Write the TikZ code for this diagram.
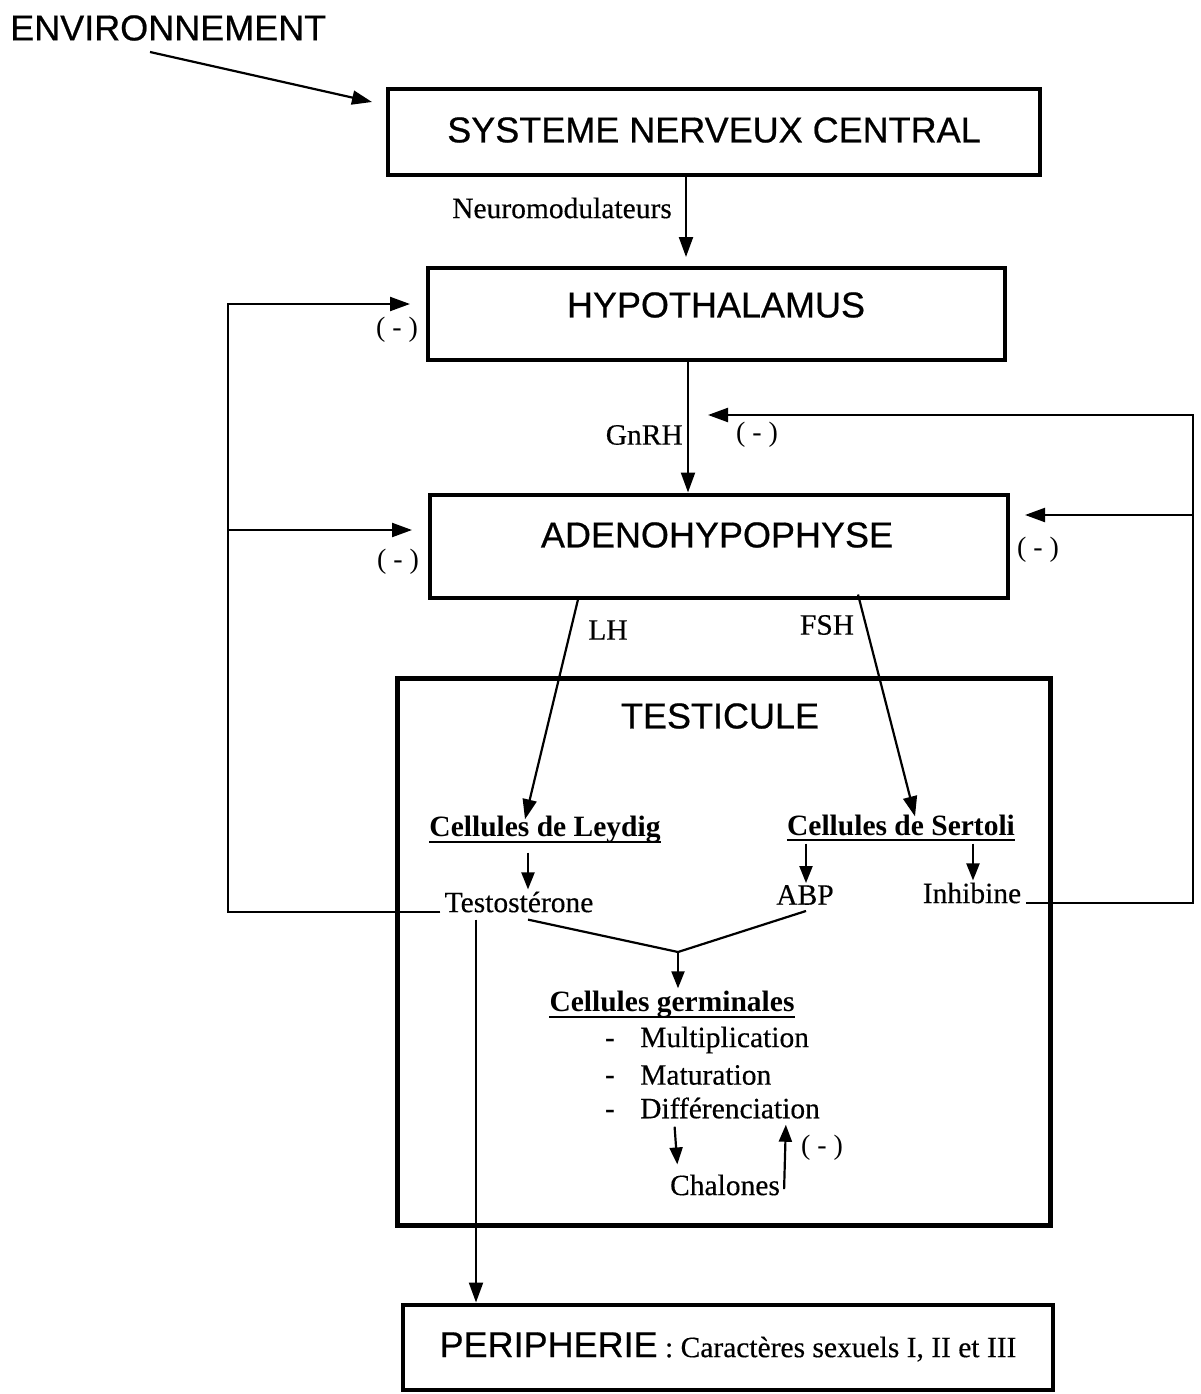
\documentclass[tikz,border=0pt]{standalone}
\usepackage{fontspec}
\setmainfont{Liberation Serif}
\setsansfont{Liberation Sans}[FakeBold=0.6]
\newfontfamily\inkserif{Liberation Serif}[FakeBold=0.35]
\usetikzlibrary{arrows.meta}

\newcommand{\capsfont}{\sffamily\fontsize{36}{40}\selectfont}
\newcommand{\txtfont}{\inkserif\fontsize{29.5}{33}\selectfont}
\newcommand{\negfont}{\rmfamily\fontsize{28}{30}\selectfont}

\tikzset{
  organ/.style={draw, line width=4pt, inner sep=0pt},
  lbl/.style={inner sep=0pt, font=\capsfont},
  txt/.style={inner sep=0pt, font=\txtfont},
  head/.style={inner sep=0pt, font=\rmfamily\fontsize{29.5}{33}\selectfont\bfseries},
  neg/.style={inner sep=0pt, font=\negfont},
  link/.style={line width=2.2pt},
  arr/.style={link, -{Triangle[length=20pt,width=14pt]}},
  sarr/.style={link, -{Triangle[length=17pt,width=13pt]}},
  uline/.style={line width=2.2pt}
}

\begin{document}
\begin{tikzpicture}[x=1pt,y=-1pt]
\useasboundingbox (0,0) rectangle (1200,1394);

% ---- organs ----
\node[lbl, anchor=west] (env) at (10,28) {ENVIRONNEMENT};
\node[organ, minimum width=652, minimum height=85] (snc) at (714,132) {};
\node[lbl] (snct) at (714,130) {SYSTEME NERVEUX CENTRAL};
\node[organ, minimum width=577, minimum height=92] (hyp) at (716,314) {};
\node[lbl] (hypt) at (716,305) {HYPOTHALAMUS};
\node[organ, minimum width=578, minimum height=103] (adeno) at (719,546) {};
\node[lbl] (adenot) at (717,535) {ADENOHYPOPHYSE};
\node[organ, line width=5pt, minimum width=653, minimum height=547] (testis) at (723.5,951.5) {};
\node[lbl] (testist) at (720,716) {TESTICULE};
\node[organ, minimum width=650, minimum height=85] (peri) at (728,1347) {};
\node[inner sep=0pt] (perit) at (728,1347)
  {{\capsfont PERIPHERIE}{\txtfont\ : Caractères sexuels I, II et III}};

% ---- hormone labels ----
\node[txt] (neuro) at (562,208) {Neuromodulateurs};
\node[txt, anchor=east] (gnrh) at (683,435) {GnRH};
\node[txt] (lh) at (608,630) {LH};
\node[txt] (fsh) at (827,625) {FSH};

% ---- cells and products ----
\node[head] (leydig) at (545,830) {Cellules de Leydig};
\node[head] (sertoli) at (901,825) {Cellules de Sertoli};
\draw[uline] ([yshift=-5]leydig.base west) -- ([yshift=-5]leydig.base east);
\draw[uline] ([yshift=-5]sertoli.base west) -- ([yshift=-5]sertoli.base east);
\node[txt] (testo) at (519,902) {Testostérone};
\node[txt] (abp) at (805,895) {ABP};
\node[txt] (inhib) at (972,893) {Inhibine};
\node[head] (germ) at (672,1005) {Cellules germinales};
\draw[uline] ([yshift=-5]germ.base west) -- ([yshift=-5]germ.base east);
\node[txt, anchor=west] (mult) at (640,1040) {Multiplication};
\node[txt, anchor=west] (matu) at (640,1075) {Maturation};
\node[txt, anchor=west] (diff) at (640,1108) {Différenciation};
\node[head, anchor=base, xshift=-30pt] (d1) at (mult.base west) {-};
\node[head, anchor=base, xshift=-30pt] (d2) at (matu.base west) {-};
\node[head, anchor=base, xshift=-30pt] (d3) at (diff.base west) {-};
\node[txt] (chal) at (725,1185) {Chalones};

% ---- inhibition marks ----
\node[neg] (n1) at (397,330) {( - )};
\node[neg] (n2) at (398,562) {( - )};
\node[neg] (n3) at (757,435) {( - )};
\node[neg] (n4) at (1038,550) {( - )};
\node[neg] (n5) at (822,1148) {( - )};

% ---- free ends of the feedback loops ----
\coordinate (envtail) at (150,52);
\coordinate (sncin) at (372,102);
\coordinate (lc) at (228,304);
\coordinate (lm) at (228,530);
\coordinate (hypin) at (410,304);
\coordinate (adin) at (412,530);
\coordinate (rc) at (1193,415);
\coordinate (rm) at (1193,515);
\coordinate (gnin) at (708,415);
\coordinate (adinr) at (1025,515);
\coordinate (vj) at (678,952);

% ---- main axis ----
\draw[arr] (envtail) -- (sncin);
\draw[arr, shorten >=9pt] ([xshift=-28]snc.south) -- ([xshift=-30]hyp.north);
\draw[arr] ([xshift=-28]hyp.south) -- ([xshift=-31]adeno.north);
\draw[arr] ([xshift=-141]adeno.south) -- ([xshift=-20,yshift=-3]leydig.north);
\draw[arr] ([xshift=139,yshift=5]adeno.south) -- ([xshift=14,yshift=-2]sertoli.north);

% ---- inside the testis ----
\draw[sarr, shorten <=9pt] ([xshift=-17]leydig.south) -- ([xshift=9,yshift=2]testo.north);
\draw[sarr, shorten <=8pt] ([xshift=-95]sertoli.south) -- ([xshift=1,yshift=2]abp.north);
\draw[sarr, shorten <=8pt] ([xshift=72]sertoli.south) -- ([xshift=1,yshift=2]inhib.north);
\draw[link] ([xshift=9,yshift=-7]testo.south) -- (vj);
\draw[link] ([xshift=1,yshift=-6]abp.south) -- (vj);
\draw[sarr] (vj) -- ([xshift=6,yshift=3]germ.north);
\draw[sarr, shorten <=8pt, shorten >=10pt] ([xshift=-56]diff.south) -- ([xshift=-47]chal.north);
\draw[sarr, shorten >=6pt] ([xshift=4,yshift=6]chal.base east) -- ([xshift=56]diff.south);

% ---- testosterone to the periphery ----
\draw[arr] ([xshift=-43,yshift=-7]testo.south) -- ([xshift=-252]peri.north);

% ---- feedback loops ----
\draw[arr] ([xshift=-4]testo.base west) -| (lc) -- (hypin);
\draw[arr] (lm) -- (adin);
\draw[arr] ([xshift=5]inhib.base east) -| (rc) -- (gnin);
\draw[arr] (rm) -- (adinr);
\end{tikzpicture}
\end{document}
